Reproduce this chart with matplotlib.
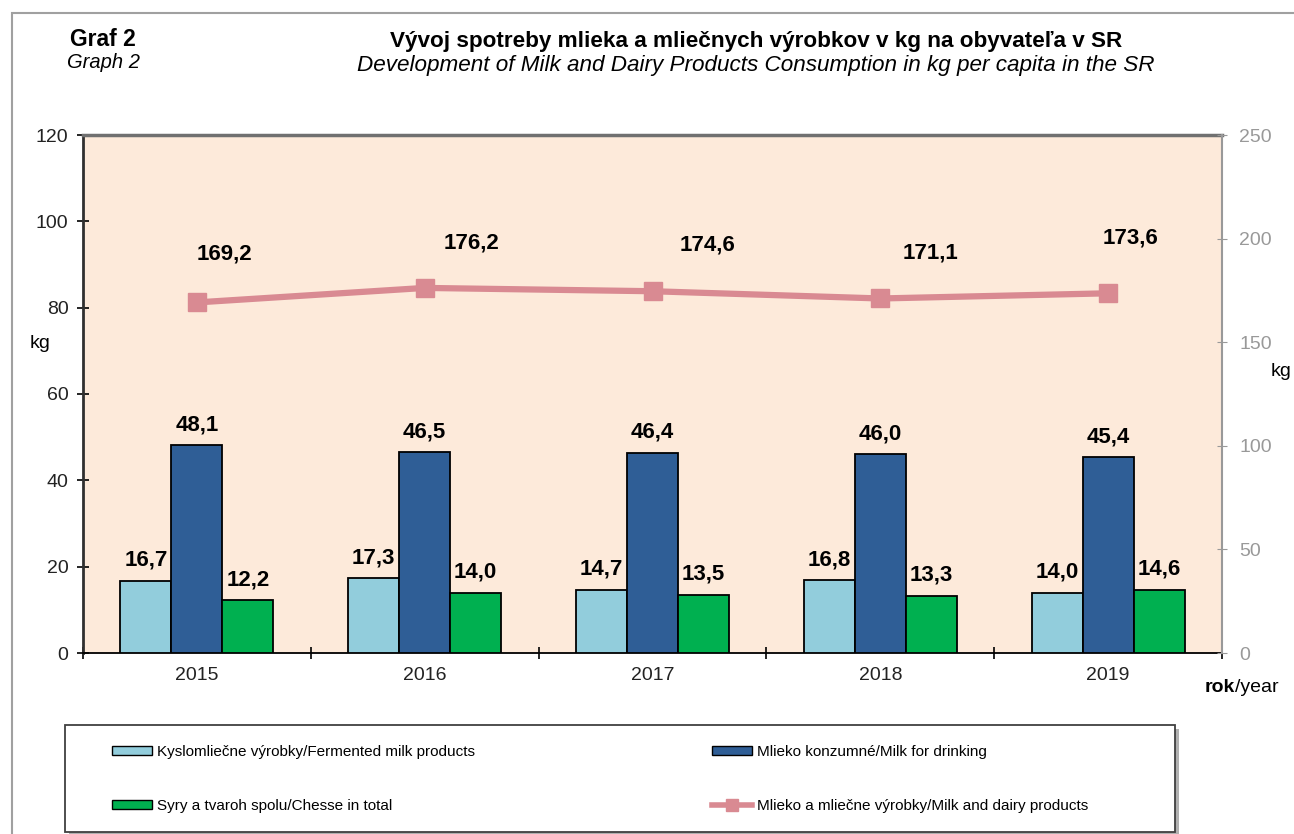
import numpy as np
import matplotlib.pyplot as plt
from matplotlib.patches import Rectangle, Patch
from matplotlib.lines import Line2D

plt.rcParams['font.family'] = ['Liberation Sans', 'DejaVu Sans']

years = ['2015', '2016', '2017', '2018', '2019']
fermented = [16.7, 17.3, 14.7, 16.8, 14.0]
drinking = [48.1, 46.5, 46.4, 46.0, 45.4]
cheese = [12.2, 14.0, 13.5, 13.3, 14.6]
total = [169.2, 176.2, 174.6, 171.1, 173.6]

c_ferm = '#92CDDC'
c_drink = '#2F5E96'
c_cheese = '#00B050'
c_line = '#D98A92'
bg = '#FDEADA'

W, H = 1294, 834
fig = plt.figure(figsize=(W / 100, H / 100), dpi=100)
ax = fig.add_axes([83/W, 1 - 653/H, (1222-83)/W, (653-135)/H])
ax.set_facecolor(bg)

x = np.arange(len(years))
w = 0.224
for off, vals, col in [(-w, fermented, c_ferm), (0, drinking, c_drink), (w, cheese, c_cheese)]:
    ax.bar(x + off, vals, w, color=col, edgecolor='black', linewidth=1.3, zorder=3)
    for xi, v in zip(x + off, vals):
        ax.annotate(f'{v:.1f}'.replace('.', ','), (xi, v), xytext=(0, 10),
                    textcoords='offset pixels', ha='center', va='bottom',
                    fontsize=16, fontweight='bold', zorder=5)

ax.set_xlim(-0.5, 4.5)
ax.set_ylim(0, 120)
ax.set_yticks(np.arange(0, 121, 20))
ax.set_xticks(x)
ax.set_xticklabels(years, fontsize=14, color='#222222')
ax.set_xticks(np.arange(-0.5, 5, 1), minor=True)
ax.tick_params(axis='x', which='major', length=0, pad=10)
ax.tick_params(axis='x', which='minor', length=9, direction='inout', width=1.2)
ax.tick_params(axis='y', labelsize=14, labelcolor='#222222', length=9,
               direction='inout', width=1.2, pad=6)
ax.spines['left'].set_linewidth(2)
ax.spines['left'].set_color('#303030')
ax.spines['bottom'].set_linewidth(1.3)
ax.spines['top'].set_color('#707070')
ax.spines['top'].set_linewidth(2.5)
ax.spines['right'].set_visible(False)

ax2 = ax.twinx()
ax2.set_ylim(0, 250)
ax2.set_yticks(np.arange(0, 251, 50))
ax2.plot(x, total, color=c_line, linewidth=4.5, marker='s', markersize=13, zorder=4)
lab_dx = [28, 47, 55, 50, 22]
lab_dy = [48, 45, 46, 45, 55]
for xi, v, dx, dy in zip(x, total, lab_dx, lab_dy):
    ax2.annotate(f'{v:.1f}'.replace('.', ','), (xi, v), xytext=(dx, dy),
                 textcoords='offset pixels', ha='center', va='center',
                 fontsize=16, fontweight='bold')
for s in ['left', 'top', 'bottom']:
    ax2.spines[s].set_visible(False)
ax2.spines['right'].set_color('#999999')
ax2.spines['right'].set_linewidth(1.5)
ax2.tick_params(axis='y', labelsize=14, colors='#999999', length=7,
                direction='inout', pad=9)

fig.text(40/W, 1 - 343/H, 'kg', fontsize=14, ha='center', va='center')
fig.text(1281/W, 1 - 372/H, 'kg', fontsize=14, ha='center', va='center')
t_rok = fig.text(1205/W, 1 - 688/H, 'rok', fontsize=14, fontweight='bold',
                 ha='left', va='center')
fig.canvas.draw()
bb = t_rok.get_window_extent()
fig.text(bb.x1 / W, 1 - 688/H, '/year', fontsize=14, ha='left', va='center')

fig.text(70/W, 1 - 40/H, 'Graf 2', fontsize=16.5, fontweight='bold', ha='left', va='center')
fig.text(67/W, 1 - 63/H, 'Graph 2', fontsize=14.5, style='italic', ha='left', va='center')
fig.text(756/W, 1 - 42/H, 'Vývoj spotreby mlieka a mliečnych výrobkov v kg na obyvateľa v SR',
         fontsize=16.2, fontweight='bold', ha='center', va='center')
fig.text(756/W, 1 - 65/H, 'Development of Milk and Dairy Products Consumption in kg per capita in the SR',
         fontsize=16.2, style='italic', ha='center', va='center')

# outer chart border
fig.patches.append(Rectangle((12/W, -0.01), 1.1, 1 - 13/H + 0.01,
                             transform=fig.transFigure, fill=False,
                             edgecolor='#A0A0A0', linewidth=1.5))

# legend frame with shadow
fig.patches.append(Rectangle((69/W, -0.01), (1175-65)/W, (834-729)/H + 0.01,
                             transform=fig.transFigure, facecolor='#B0B0B0',
                             edgecolor='none'))
fig.patches.append(Rectangle((65/W, 2/H), (1175-65)/W, (832-725)/H,
                             transform=fig.transFigure, facecolor='white',
                             edgecolor='#404040', linewidth=1.3))

handles = [Patch(facecolor=c_ferm, edgecolor='black'),
           Patch(facecolor=c_cheese, edgecolor='black'),
           Patch(facecolor=c_drink, edgecolor='black'),
           Line2D([], [], color=c_line, linewidth=4, marker='s', markersize=9)]
labels = ['Kyslomliečne výrobky/Fermented milk products',
          'Syry a tvaroh spolu/Chesse in total',
          'Mlieko konzumné/Milk for drinking',
          'Mlieko a mliečne výrobky/Milk and dairy products']
fs = 11
em = fs * 100 / 72
leg = fig.legend(handles, labels, ncol=2, loc='upper left',
                 bbox_to_anchor=(112/W, 1 - 745/H),
                 borderaxespad=0, borderpad=0, fontsize=fs,
                 handlelength=40/em, handleheight=0.5,
                 handletextpad=5/em, labelspacing=2.6,
                 columnspacing=237/em, frameon=False)

fig.savefig('out.png', dpi=100)
